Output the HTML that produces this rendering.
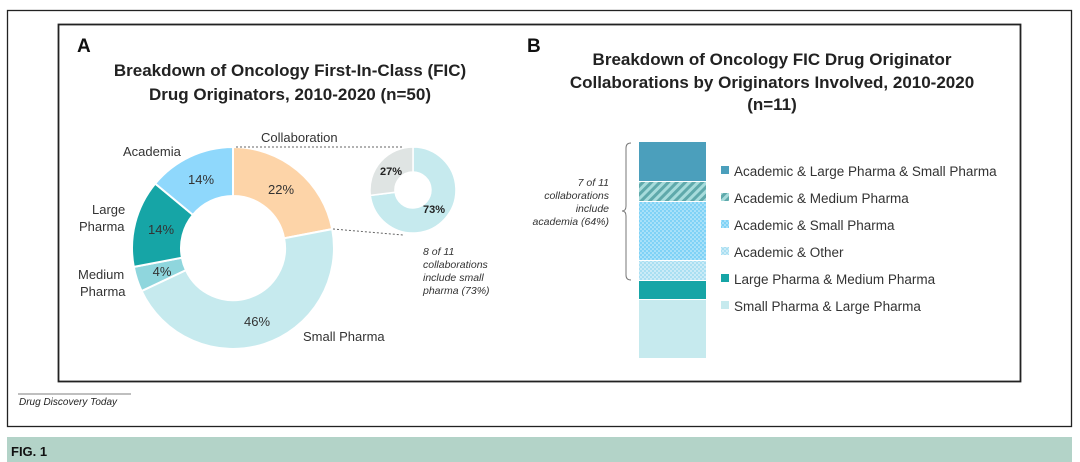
<!DOCTYPE html>
<html><head><meta charset="utf-8"><style>
html,body{margin:0;padding:0;background:#fff;}
svg{display:block;font-family:"Liberation Sans",sans-serif;}
</style></head><body>
<svg width="1080" height="462" viewBox="0 0 1080 462">
<defs>
<pattern id="hatch" width="6" height="6" patternUnits="userSpaceOnUse" patternTransform="rotate(45)">
<rect width="6" height="6" fill="#a7dcdc"/><rect width="3" height="6" fill="#5fa9ab"/></pattern>
<pattern id="dots" width="4" height="4" patternUnits="userSpaceOnUse">
<rect width="4" height="4" fill="#7fd2f6"/><circle cx="1" cy="1" r="0.8" fill="#d8f2fd"/><circle cx="3" cy="3" r="0.8" fill="#d8f2fd"/></pattern>
<pattern id="dots2" width="4" height="4" patternUnits="userSpaceOnUse">
<rect width="4" height="4" fill="#a9dff2"/><circle cx="1" cy="1" r="0.9" fill="#e4f5fb"/><circle cx="3" cy="3" r="0.9" fill="#e4f5fb"/></pattern>
</defs>
<rect x="7.5" y="10.5" width="1064" height="416" fill="none" stroke="#222" stroke-width="1.3"/>
<rect x="58.5" y="24.5" width="962" height="357" fill="none" stroke="#222" stroke-width="1.8"/>
<line x1="18" y1="394" x2="131" y2="394" stroke="#555" stroke-width="0.8"/>
<text x="19" y="405" font-size="10" font-style="italic" fill="#222">Drug Discovery Today</text>
<rect x="7" y="437" width="1065" height="25" fill="#b3d3c8"/>
<text x="11" y="456" font-size="13" font-weight="bold" fill="#111">FIG. 1</text>

<text x="77" y="52" font-size="19" font-weight="bold" fill="#111">A</text>
<text x="290" y="76" font-size="17" font-weight="bold" text-anchor="middle" fill="#222">Breakdown of Oncology First-In-Class (FIC)</text>
<text x="290" y="100" font-size="17" font-weight="bold" text-anchor="middle" fill="#222">Drug Originators, 2010-2020 (n=50)</text>
<text x="527" y="52" font-size="19" font-weight="bold" fill="#111">B</text>
<text x="772" y="65" font-size="17" font-weight="bold" text-anchor="middle" fill="#222">Breakdown of Oncology FIC Drug Originator</text>
<text x="772" y="88" font-size="17" font-weight="bold" text-anchor="middle" fill="#222">Collaborations by Originators Involved, 2010-2020</text>
<text x="772" y="110" font-size="17" font-weight="bold" text-anchor="middle" fill="#222">(n=11)</text>

<g stroke="#fff" stroke-width="2">
<path d="M233,147 A101,101 0 0 1 332.2,229.1 L284.1,238.3 A52,52 0 0 0 233,196 Z" fill="#fdd4a8"/>
<path d="M332.2,229.1 A101,101 0 0 1 141.6,291 L185.9,270.1 A52,52 0 0 0 284.1,238.3 Z" fill="#c6eaee"/>
<path d="M141.6,291 A101,101 0 0 1 133.8,266.9 L181.9,257.7 A52,52 0 0 0 185.9,270.1 Z" fill="#8fd6dd"/>
<path d="M133.8,266.9 A101,101 0 0 1 155.2,183.6 L192.9,214.9 A52,52 0 0 0 181.9,257.7 Z" fill="#16a5a6"/>
<path d="M155.2,183.6 A101,101 0 0 1 233,147 L233,196 A52,52 0 0 0 192.9,214.9 Z" fill="#8fd8fc"/>
</g>
<path d="M413,147 A43,43 0 1 1 370.3,195.4 L395.1,192.3 A18,18 0 1 0 413,172 Z" fill="#c6eaee" stroke="#fff" stroke-width="1.5"/>
<path d="M370.3,195.4 A43,43 0 0 1 413,147 L413,172 A18,18 0 0 0 395.1,192.3 Z" fill="#dfe4e3" stroke="#fff" stroke-width="1.5"/>
<line x1="236" y1="147" x2="403" y2="147" stroke="#666" stroke-dasharray="2,2" stroke-width="1"/>
<line x1="333" y1="229" x2="403" y2="235" stroke="#666" stroke-dasharray="2,2" stroke-width="1"/>

<g font-size="13" fill="#333">
<text x="261" y="142">Collaboration</text>
<text x="123" y="156">Academia</text>
<text x="92" y="214">Large</text>
<text x="79" y="231">Pharma</text>
<text x="78" y="279">Medium</text>
<text x="80" y="296">Pharma</text>
<text x="303" y="341">Small Pharma</text>
<text x="281" y="194" text-anchor="middle">22%</text>
<text x="201" y="184" text-anchor="middle">14%</text>
<text x="161" y="234" text-anchor="middle">14%</text>
<text x="162" y="276" text-anchor="middle">4%</text>
<text x="257" y="326" text-anchor="middle">46%</text>
</g>
<text x="391" y="175" font-size="11" font-weight="bold" fill="#222" text-anchor="middle">27%</text>
<text x="434" y="213" font-size="11" font-weight="bold" fill="#222" text-anchor="middle">73%</text>
<g font-size="10.5" font-style="italic" fill="#333">
<text x="423" y="255">8 of 11</text>
<text x="423" y="268">collaborations</text>
<text x="423" y="281">include small</text>
<text x="423" y="294">pharma (73%)</text>
</g>

<rect x="639" y="142" width="67" height="39" fill="#4b9fbc"/>
<rect x="639" y="182" width="67" height="19" fill="url(#hatch)"/>
<rect x="639" y="202" width="67" height="58" fill="url(#dots)"/>
<rect x="639" y="261" width="67" height="19" fill="url(#dots2)"/>
<rect x="639" y="281" width="67" height="18" fill="#16a5a6"/>
<rect x="639" y="300" width="67" height="58" fill="#c6eaee"/>
<path d="M631,143 Q626,143 626,148 L626,206 Q626,211 622,211 Q626,211 626,216 L626,275 Q626,280 631,280" fill="none" stroke="#777" stroke-width="1"/>
<g font-size="10.5" font-style="italic" fill="#333" text-anchor="end">
<text x="609" y="186">7 of 11</text>
<text x="609" y="199">collaborations</text>
<text x="609" y="212">include</text>
<text x="609" y="225">academia (64%)</text>
</g>
<rect x="721" y="166" width="8" height="8" fill="#4b9fbc"/>
<rect x="721" y="193" width="8" height="8" fill="url(#hatch)"/>
<rect x="721" y="220" width="8" height="8" fill="url(#dots)"/>
<rect x="721" y="247" width="8" height="8" fill="url(#dots2)"/>
<rect x="721" y="274" width="8" height="8" fill="#16a5a6"/>
<rect x="721" y="301" width="8" height="8" fill="#c6eaee"/>
<g font-size="13.5" fill="#333">
<text x="734" y="176">Academic &amp; Large Pharma &amp; Small Pharma</text>
<text x="734" y="203">Academic &amp; Medium Pharma</text>
<text x="734" y="230">Academic &amp; Small Pharma</text>
<text x="734" y="257">Academic &amp; Other</text>
<text x="734" y="284">Large Pharma &amp; Medium Pharma</text>
<text x="734" y="311">Small Pharma &amp; Large Pharma</text>
</g>
</svg>
</body></html>
